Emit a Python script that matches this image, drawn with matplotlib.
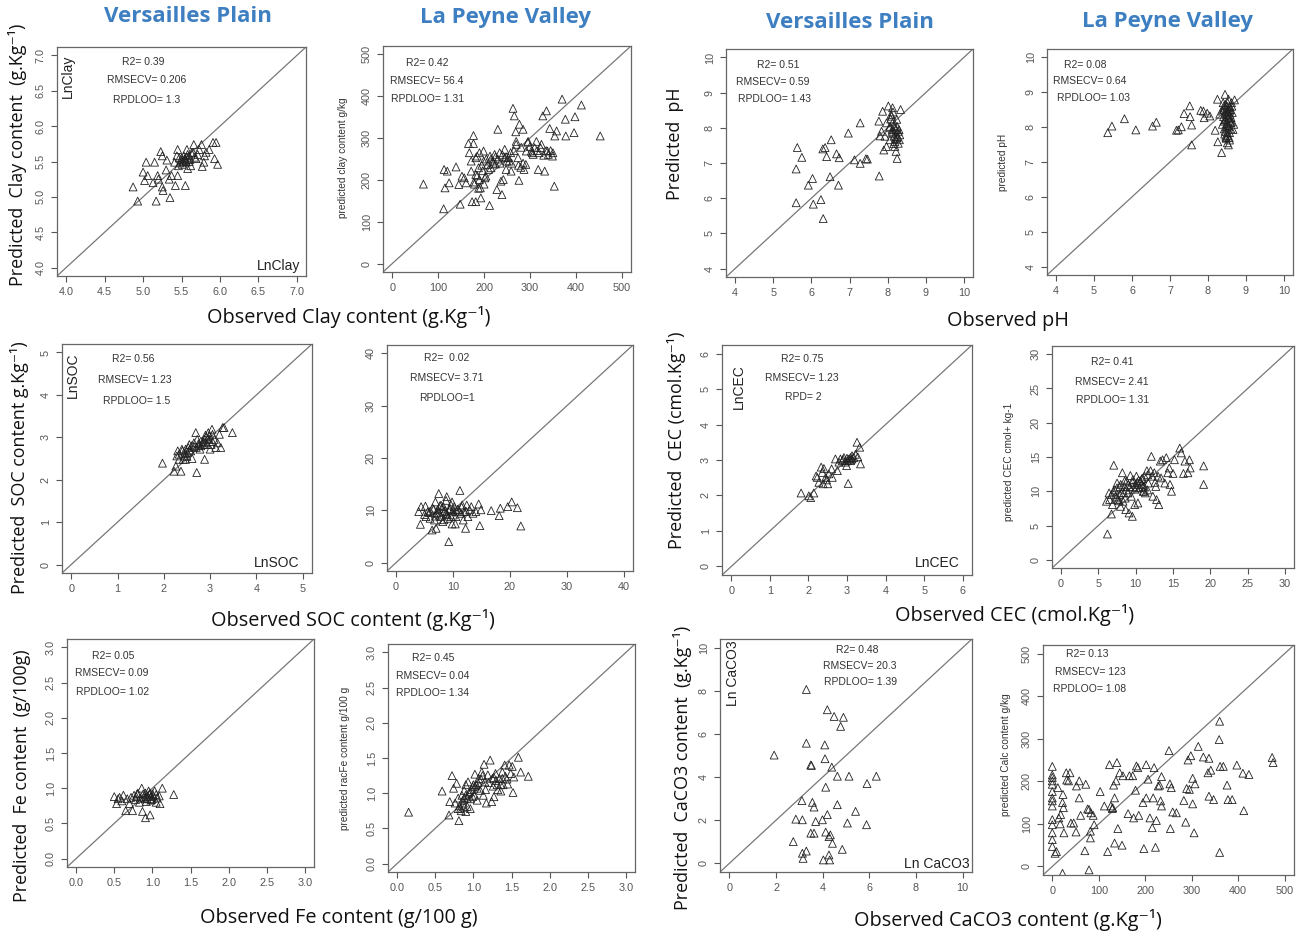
#!/usr/bin/env python3
# -*- coding: utf-8 -*-
"""
Observed vs predicted soil properties, Versailles Plain and La Peyne Valley.
12 R-style scatter panels with the 1:1 line.
"""

import matplotlib
matplotlib.use("Agg")
import matplotlib.pyplot as plt
import numpy as np

plt.rcParams['font.family'] = ['Liberation Sans', 'DejaVu Sans']

# --- Data ---
# Clay, Versailles Plain (LnClay)
clay_vp_obs = [4.87, 4.93, 5.00, 5.04, 5.06, 5.02, 5.13, 5.17, 5.15, 5.19, 5.20, 5.23, 5.25, 5.25,
               5.26, 5.30, 5.31, 5.34, 5.35, 5.37, 5.41, 5.42, 5.45, 5.46, 5.45, 5.47, 5.51, 5.52,
               5.54, 5.55, 5.57, 5.56, 5.58, 5.60, 5.62, 5.65, 5.66, 5.69, 5.71, 5.73, 5.76, 5.77,
               5.79, 5.80, 5.82, 5.86, 5.91, 5.93, 5.95, 5.97, 5.54, 5.57, 5.51, 5.60, 5.67,
               5.50, 5.53, 5.56, 5.58, 5.61, 5.63, 5.48, 5.44]
clay_vp_pred = [5.14, 4.94, 5.35, 5.49, 5.30, 5.23, 5.20, 4.94, 5.49, 5.30, 5.25, 5.64, 5.58, 5.14,
                5.09, 5.38, 5.52, 5.25, 4.99, 5.30, 5.49, 5.16, 5.67, 5.44, 5.30, 5.55, 5.52, 5.50,
                5.54, 5.16, 5.67, 5.49, 5.40, 5.58, 5.44, 5.63, 5.74, 5.54, 5.60, 5.67, 5.74, 5.43,
                5.49, 5.58, 5.63, 5.67, 5.77, 5.54, 5.77, 5.46, 5.52, 5.56, 5.46, 5.50, 5.56,
                5.55, 5.58, 5.52, 5.60, 5.53, 5.62, 5.48, 5.58]

# Clay, La Peyne Valley (g/kg)
clay_lp_obs = [68, 112, 113, 115, 120, 124, 139, 145, 148, 152, 157, 166, 168, 172, 174, 177, 177,
               179, 182, 185, 188, 190, 192, 193, 197, 199, 202, 212, 213, 215, 219, 225, 228, 230,
               234, 237, 239, 242, 245, 248, 253, 259, 263, 266, 269, 270, 274, 276, 277, 281, 285,
               287, 291, 296, 303, 307, 314, 318, 323, 328, 330, 332, 336, 340, 343, 349, 353, 354,
               358, 370, 377, 378, 396, 398, 412, 453, 182, 190, 199, 204, 208, 223, 245, 255, 292,
               310, 338, 350, 172, 161, 182,
               185, 195, 205, 210, 220, 230, 240, 250, 260, 265, 275, 285, 295, 300, 305, 315, 320,
               325, 335, 345, 178, 188, 200, 215, 225, 235, 248, 258, 270, 280]
clay_lp_pred = [190, 131, 225, 181, 221, 193, 231, 189, 142, 209, 205, 287, 265, 245, 148, 287, 306,
                190, 213, 257, 229, 201, 181, 157, 222, 245, 205, 139, 257, 229, 245, 238, 177, 321,
                265, 197, 165, 201, 273, 225, 253, 221, 371, 353, 315, 292, 253, 199, 333, 278, 321,
                225, 237, 292, 269, 261, 292, 225, 277, 353, 259, 221, 365, 261, 323, 257, 185, 305,
                317, 393, 345, 305, 313, 351, 379, 305, 253, 265, 269, 209, 237, 261, 253, 245, 269,
                277, 269, 265, 221, 193, 148,
                210, 235, 250, 225, 240, 250, 260, 245, 240, 270, 235, 240, 290, 280, 265, 270, 265,
                285, 270, 270, 195, 180, 190, 250, 255, 240, 255, 265, 285, 230]

# pH, Versailles Plain
ph_vp_obs = [5.60, 5.60, 5.63, 5.75, 5.92, 6.03, 6.05, 6.25, 6.30, 6.31, 6.36, 6.40, 6.49, 6.52,
             6.66, 6.71, 6.73, 6.97, 7.13, 7.28, 7.28, 7.43, 7.47, 7.78, 7.77, 7.80, 7.87, 7.90,
             7.97, 8.02, 8.06, 8.09, 8.10, 8.13, 8.15, 8.17, 8.19, 8.19, 8.22, 8.24, 8.25, 8.25,
             8.28, 8.31, 8.32, 8.34, 7.84, 7.93, 7.97, 8.06, 8.15, 8.19, 8.25, 8.28, 8.10, 8.22,
             8.05, 8.12, 8.18, 8.22, 8.26, 8.08, 8.14, 8.20, 8.30, 8.16]
ph_vp_pred = [5.87, 6.83, 7.44, 7.16, 6.37, 6.56, 5.83, 5.96, 7.40, 5.42, 7.44, 7.18, 6.61, 7.66,
              7.26, 6.37, 7.15, 7.85, 7.09, 8.14, 6.99, 7.12, 7.11, 6.63, 8.19, 7.77, 8.47, 7.37,
              7.47, 8.62, 8.04, 8.38, 7.85, 8.57, 8.19, 7.76, 7.47, 7.99, 7.33, 8.24, 7.13, 7.71,
              7.90, 7.66, 7.80, 8.52, 7.90, 7.76, 8.14, 7.66, 7.90, 7.61, 8.04, 7.56, 8.33, 7.94,
              8.00, 7.95, 8.05, 7.85, 7.75, 8.25, 8.45, 7.70, 7.95, 7.55]

# pH, La Peyne Valley
ph_lp_obs = [5.36, 5.47, 5.80, 6.10, 6.54, 6.64, 7.17, 7.22, 7.30, 7.37, 7.52, 7.53, 7.57, 7.57,
             7.81, 7.88, 7.90, 7.98, 8.05, 8.19, 8.25, 8.26, 8.31, 8.36, 8.42, 8.45, 8.47, 8.47,
             8.48, 8.51, 8.51, 8.54, 8.55, 8.57, 8.58, 8.60, 8.62, 8.64, 8.66, 8.68, 8.70, 8.38,
             8.42, 8.45, 8.49, 8.54, 8.57, 8.61, 8.38, 8.48, 8.57, 8.54,
             8.40, 8.44, 8.46, 8.50, 8.52, 8.56, 8.59, 8.63, 8.41, 8.45, 8.49, 8.53, 8.58, 8.62,
             8.43, 8.47, 8.51, 8.55, 8.60, 8.44, 8.48, 8.52, 8.56, 8.46, 8.50, 8.54, 8.58, 8.42,
             8.50, 8.55]
ph_lp_pred = [7.84, 8.03, 8.24, 7.92, 8.03, 8.14, 7.91, 7.92, 8.01, 8.39, 8.61, 8.30, 7.49, 8.06,
              8.48, 8.46, 8.27, 8.40, 8.32, 7.91, 8.80, 7.58, 8.37, 7.27, 8.61, 8.94, 8.22, 7.74,
              8.51, 8.03, 7.55, 8.80, 8.32, 7.84, 8.59, 8.13, 8.70, 8.42, 7.93, 8.08, 8.78, 8.46,
              8.17, 7.88, 8.37, 8.27, 8.46, 8.27, 8.08, 7.68, 7.63, 7.49,
              8.70, 8.55, 8.65, 8.45, 8.70, 8.55, 8.50, 8.60, 8.30, 8.20, 8.10, 8.25, 8.35, 8.15,
              7.95, 8.00, 7.85, 8.05, 7.95, 7.80, 7.70, 7.75, 7.70, 8.40, 8.35, 8.45, 8.20, 8.50,
              8.60, 8.00]

# SOC, Versailles Plain (LnSOC)
soc_vp_obs = [1.97, 2.22, 2.26, 2.28, 2.30, 2.33, 2.37, 2.39, 2.42, 2.45, 2.47, 2.51, 2.53, 2.55,
              2.58, 2.61, 2.65, 2.69, 2.71, 2.72, 2.76, 2.78, 2.80, 2.84, 2.87, 2.88, 2.91, 2.94,
              2.96, 2.98, 3.00, 3.02, 3.04, 3.05, 3.09, 3.12, 3.16, 3.23, 3.27, 3.30, 3.48, 2.33,
              2.40, 2.47, 2.60, 2.80, 2.87, 2.98, 3.20,
              2.45, 2.55, 2.65, 2.75, 2.85, 2.95, 3.05, 2.50, 2.70, 2.90]
soc_vp_pred = [2.39, 2.20, 2.32, 2.56, 2.68, 2.48, 2.20, 2.72, 2.48, 2.56, 2.48, 2.64, 2.76, 2.83,
               2.68, 2.50, 2.87, 3.11, 2.17, 2.95, 2.81, 2.72, 2.91, 2.83, 2.87, 2.48, 3.01, 2.83,
               3.11, 2.95, 2.72, 2.83, 3.19, 3.07, 2.95, 2.76, 2.87, 2.76, 3.23, 3.23, 3.11, 2.60,
               2.68, 2.72, 2.80, 2.80, 2.95, 3.03, 3.07,
               2.62, 2.70, 2.78, 2.85, 2.90, 2.98, 2.90, 2.55, 2.76, 3.05]

# SOC, La Peyne Valley (g/kg)
soc_lp_obs = [3.97, 4.27, 5.15, 5.26, 5.56, 5.96, 6.32, 6.73, 6.90, 7.02, 7.31, 7.49, 7.72, 7.89,
              8.19, 8.48, 8.77, 8.89, 9.06, 9.24, 9.36, 9.65, 9.82, 10.05, 10.2, 10.4, 10.6, 11.0,
              11.2, 11.6, 11.8, 12.0, 12.2, 12.4, 12.9, 13.2, 13.5, 14.0, 14.5, 14.7, 14.9, 16.7,
              18.1, 18.3, 19.6, 20.3, 21.3, 21.9, 4.39, 5.85, 6.43, 7.14, 7.89, 8.30, 8.77, 9.65,
              10.5, 11.4, 12.6, 9.82,
              5.0, 6.0, 6.6, 7.5, 8.0, 8.6, 9.0, 9.5, 10.0, 10.8, 11.5, 12.3, 6.9, 7.7, 8.4]
soc_lp_pred = [9.75, 7.32, 10.8, 8.79, 9.75, 8.47, 6.24, 8.15, 11.6, 6.56, 10.1, 13.2, 9.11, 11.0,
               7.83, 9.75, 11.9, 12.6, 8.47, 4.01, 10.1, 11.0, 7.39, 9.11, 10.7, 7.39, 9.75, 10.1,
               13.8, 11.0, 8.15, 9.75, 6.56, 11.0, 10.1, 10.7, 9.43, 9.75, 11.2, 7.07, 10.1, 9.94,
               8.98, 10.4, 10.7, 11.6, 10.5, 7.0, 10.7, 9.55, 10.4, 9.43, 8.79, 10.7, 9.43, 8.79,
               8.79, 9.43, 8.79, 11.6,
               9.2, 9.9, 10.2, 9.6, 10.4, 10.0, 9.2, 10.3, 9.9, 10.2, 10.6, 9.8, 8.9, 10.9, 8.2]

# CEC, Versailles Plain (LnCEC)
cec_vp_obs = [1.81, 2.01, 2.06, 2.14, 2.23, 2.27, 2.33, 2.36, 2.38, 2.40, 2.45, 2.47, 2.50, 2.53,
              2.62, 2.70, 2.75, 2.79, 2.83, 2.88, 2.92, 2.96, 2.99, 3.03, 3.05, 3.09, 3.13, 3.18,
              3.22, 3.26, 3.28, 3.33, 3.35, 3.01, 3.09, 3.13, 2.90, 3.00, 3.10, 2.60, 2.20]
cec_vp_pred = [2.07, 1.99, 1.94, 2.07, 2.51, 2.37, 2.80, 2.65, 2.33, 2.76, 2.51, 2.44, 2.33, 2.61,
               2.51, 3.03, 2.70, 2.94, 3.03, 2.98, 3.07, 2.94, 2.84, 2.34, 3.03, 3.07, 3.12, 3.07,
               3.16, 3.50, 3.09, 3.36, 2.89, 2.98, 2.98, 3.03, 3.02, 3.05, 3.00, 2.75, 2.55]

# CEC, La Peyne Valley (cmol+/kg)
cec_lp_obs = [6.22, 6.09, 6.44, 6.76, 6.89, 7.07, 7.20, 7.33, 7.51, 7.64, 7.87, 7.96, 8.09, 8.22,
              8.31, 8.53, 8.67, 8.76, 8.98, 9.11, 9.29, 9.42, 9.56, 9.64, 9.87, 10.1, 10.2, 10.3,
              10.5, 10.8, 10.9, 11.1, 11.2, 11.3, 11.5, 11.7, 12.0, 12.1, 12.3, 12.5, 12.7, 12.8,
              13.0, 13.1, 13.3, 13.4, 13.6, 13.9, 14.1, 14.3, 14.5, 14.6, 14.8, 15.0, 15.2, 15.9,
              16.1, 16.4, 16.6, 17.0, 17.2, 17.3, 19.1, 19.1, 6.76, 7.42, 7.87, 8.53, 8.98, 9.64,
              10.1, 11.0, 11.6,
              7.0, 7.5, 8.0, 8.4, 8.8, 9.2, 9.6, 10.0, 10.4, 10.8, 11.2, 11.6, 12.2, 6.5, 7.8,
              8.6, 9.9, 10.6, 11.0, 12.6]
cec_lp_pred = [3.76, 8.54, 9.76, 6.68, 8.05, 13.8, 10.2, 9.27, 11.2, 8.78, 10.7, 7.80, 9.76, 12.7,
               8.54, 11.5, 7.32, 10.2, 11.0, 6.83, 12.3, 9.27, 6.34, 10.7, 8.05, 12.2, 11.3, 8.29,
               10.5, 11.0, 11.9, 10.0, 12.2, 9.76, 13.0, 11.2, 13.0, 15.1, 9.27, 12.7, 10.7, 8.78,
               12.2, 8.05, 14.4, 11.95, 14.6, 11.2, 14.9, 12.7, 13.4, 11.0, 10.0, 12.6, 14.6, 16.3,
               15.6, 12.6, 14.4, 12.7, 14.6, 13.4, 13.7, 11.0, 9.51, 9.02, 9.51, 10.7, 9.76, 11.7,
               10.5, 10.7, 10.2,
               10.0, 10.5, 11.0, 9.8, 11.5, 10.6, 11.3, 11.0, 11.6, 11.8, 10.6, 12.4, 12.2, 8.8,
               8.6, 9.0, 10.3, 11.5, 10.0, 11.3]

# Fe, Versailles Plain (g/100 g)
fe_vp_obs = [0.50, 0.53, 0.57, 0.60, 0.62, 0.65, 0.67, 0.70, 0.74, 0.76, 0.78, 0.81, 0.83, 0.86,
             0.87, 0.89, 0.91, 0.91, 0.92, 0.94, 0.97, 0.97, 0.99, 1.01, 1.03, 1.05, 1.09, 1.10,
             1.13, 1.28, 0.92, 0.96, 0.98, 0.93, 1.00, 0.79, 0.72, 0.55, 1.05,
             0.88, 0.95, 1.00, 0.84, 0.90, 0.98, 1.06, 0.80]
fe_vp_pred = [0.88, 0.78, 0.87, 0.82, 0.90, 0.68, 0.85, 0.78, 0.68, 0.90, 0.84, 0.93, 0.80, 1.00,
              0.67, 0.87, 0.93, 0.58, 0.81, 0.89, 0.62, 0.93, 0.84, 0.89, 0.96, 0.80, 0.89, 0.78,
              1.00, 0.91, 0.88, 0.91, 0.88, 0.85, 0.85, 0.88, 0.87, 0.85, 0.91,
              0.92, 0.96, 0.92, 0.86, 0.85, 0.83, 0.86, 0.92]

# Fe, La Peyne Valley (g/100 g)
fe_lp_obs = [0.15, 0.59, 0.68, 0.69, 0.72, 0.74, 0.76, 0.78, 0.80, 0.81, 0.83, 0.85, 0.87, 0.88,
             0.90, 0.92, 0.93, 0.95, 0.96, 0.99, 1.01, 1.02, 1.04, 1.05, 1.07, 1.09, 1.11, 1.13,
             1.14, 1.15, 1.17, 1.19, 1.22, 1.24, 1.25, 1.27, 1.29, 1.31, 1.34, 1.36, 1.38, 1.39,
             1.41, 1.42, 1.45, 1.47, 1.49, 1.51, 1.52, 1.53, 1.59, 1.62, 1.72, 0.88, 0.92, 0.99,
             1.05, 1.27, 1.38, 0.80, 0.90,
             0.82, 0.86, 0.90, 0.94, 0.98, 1.02, 1.06, 1.10, 1.16, 1.20, 1.26, 1.30, 1.36, 1.44,
             0.84, 0.88, 0.96, 1.00, 1.12, 1.32]
fe_lp_pred = [0.73, 1.03, 0.69, 0.88, 1.25, 1.07, 0.86, 1.14, 0.93, 0.61, 0.78, 0.97, 0.86, 1.04,
              1.12, 0.93, 1.16, 1.02, 0.78, 1.09, 0.97, 1.27, 1.12, 0.90, 1.21, 1.04, 1.30, 0.97,
              1.41, 1.16, 0.86, 1.26, 1.47, 0.88, 1.21, 0.95, 1.28, 1.12, 1.21, 1.03, 1.30, 1.12,
              1.40, 1.24, 1.13, 1.40, 1.28, 1.38, 1.01, 1.23, 1.51, 1.30, 1.24, 0.93, 0.81, 0.95,
              1.07, 1.22, 1.21, 0.78, 0.74,
              0.82, 0.90, 0.97, 1.00, 1.05, 1.10, 1.15, 1.20, 1.05, 1.15, 1.10, 1.18, 1.12, 1.20,
              0.75, 0.80, 0.92, 1.12, 1.25, 1.05]

# CaCO3, Versailles Plain (Ln CaCO3)
caco3_vp_obs = [1.92, 2.74, 2.85, 3.11, 3.13, 3.13, 3.16, 3.30, 3.30, 3.30, 3.49, 3.52, 3.56, 3.63,
                3.63, 3.70, 3.99, 4.03, 4.09, 4.10, 4.13, 4.13, 4.20, 4.20, 4.27, 4.27, 4.30, 4.33,
                4.39, 4.42, 4.49, 4.63, 4.63, 4.77, 4.84, 4.89, 5.06, 5.13, 5.41, 5.88, 5.90, 6.30,
                3.49]
caco3_vp_pred = [5.02, 1.01, 2.05, 2.91, 2.02, 0.47, 0.23, 0.57, 5.57, 8.06, 1.40, 4.54, 2.83, 1.40,
                 2.61, 1.94, 2.02, 0.16, 5.49, 4.85, 3.53, 1.45, 2.26, 7.12, 1.24, 0.39, 0.16, 1.32,
                 4.46, 0.93, 6.81, 4.04, 2.72, 6.35, 0.65, 6.77, 1.87, 4.04, 2.41, 1.79, 3.70, 4.04,
                 4.56]

# CaCO3, La Peyne Valley (g/kg)
caco3_lp_obs = [0, 0, 0, 0, 0, 0, 0, 0, 0, 0, 0, 0, 0, 0, 6, 9, 12, 14, 17, 18, 22, 23, 24, 22, 25,
                30, 31, 35, 38, 40, 46, 51, 52, 58, 58, 61, 70, 72, 76, 79, 79, 82, 82, 83, 88, 90,
                103, 112, 119, 123, 126, 129, 130, 132, 134, 134, 137, 139, 141, 145, 150, 152, 163,
                166, 173, 175, 179, 181, 184, 186, 195, 197, 202, 202, 206, 210, 215, 217, 219, 222,
                224, 228, 231, 233, 235, 235, 251, 253, 254, 256, 259, 267, 283, 287, 289, 292, 295,
                298, 302, 302, 305, 307, 314, 325, 335, 337, 337, 341, 347, 360, 359, 360, 361, 368,
                376, 378, 387, 397, 412, 410, 423, 473, 475]
caco3_lp_pred = [235, 215, 209, 201, 193, 176, 161, 154, 142, 110, 98, 79, 63, 47, 31, 35, 185, 114,
                 100, 122, 150, 169, 138, -16, 79, 220, 203, 201, 220, 102, 102, 81, 189, 161, 201,
                 120, 37, 193, 135, 134, -8, 83, 67, 126, 120, 98, 176, 142, 35, 239, 142, 136, 138,
                 191, 161, 55, 201, 244, 89, 220, 50, 213, 124, 213, 213, 114, 179, 236, 232, 120,
                 150, 42, 239, 161, 205, 114, 91, 161, 232, 45, 108, 189, 191, 154, 142, 211, 272,
                 194, 89, 185, 128, 126, 155, 104, 183, 250, 181, 260, 147, 207, 79, 194, 282, 257,
                 220, 254, 165, 226, 157, 341, 298, 33, 235, 235, 191, 157, 157, 238, 131, 219, 216,
                 256, 244]

# --- Panel layout (pixel box: left, top, right, bottom) ---
W, H = 1300, 936
GRAY = '#555555'

panels = [
    dict(obs=clay_vp_obs, pred=clay_vp_pred, lim=(4, 7), step=0.5, fmt='%.1f',
         box=(57, 47, 306, 276), stats=['R2= 0.39', 'RMSECV= 0.206', 'RPDLOO= 1.3'],
         spos=[(0.345, 0.934), (0.36, 0.856), (0.36, 0.769)],
         ln='LnClay', lnpos=(0.045, 0.87), lnbr=(0.976, 0.044)),
    dict(obs=clay_lp_obs, pred=clay_lp_pred, lim=(0, 500), step=100, fmt='%d',
         box=(383, 46, 631, 272), stats=['R2= 0.42', 'RMSECV= 56.4', 'RPDLOO= 1.31'],
         spos=[(0.177, 0.925), (0.177, 0.845), (0.18, 0.765)],
         ylab='predicted clay content g/kg'),
    dict(obs=ph_vp_obs, pred=ph_vp_pred, lim=(4, 10), step=1, fmt='%d',
         box=(726, 49, 973, 277), stats=['R2= 0.51', 'RMSECV= 0.59', 'RPDLOO= 1.43'],
         spos=[(0.21, 0.93), (0.19, 0.855), (0.198, 0.78)]),
    dict(obs=ph_lp_obs, pred=ph_lp_pred, lim=(4, 10), step=1, fmt='%d',
         box=(1047, 49, 1293, 275), stats=['R2= 0.08', 'RMSECV= 0.64', 'RPDLOO= 1.03'],
         spos=[(0.155, 0.929), (0.175, 0.858), (0.187, 0.783)],
         ylab='predicted pH'),
    dict(obs=soc_vp_obs, pred=soc_vp_pred, lim=(0, 5), step=1, fmt='%d',
         box=(62, 344, 312, 573), stats=['R2= 0.56', 'RMSECV= 1.23', 'RPDLOO= 1.5'],
         spos=[(0.284, 0.934), (0.292, 0.843), (0.30, 0.751)],
         ln='LnSOC', lnpos=(0.044, 0.865), lnbr=(0.948, 0.044)),
    dict(obs=soc_lp_obs, pred=soc_lp_pred, lim=(0, 40), step=10, fmt='%d',
         box=(387, 345, 633, 571), stats=['R2=  0.02', 'RMSECV= 3.71', 'RPDLOO=1'],
         spos=[(0.244, 0.942), (0.244, 0.854), (0.244, 0.765)]),
    dict(obs=cec_vp_obs, pred=cec_vp_pred, lim=(0, 6), step=1, fmt='%d',
         box=(722, 345, 972, 575), stats=['R2= 0.75', 'RMSECV= 1.23', 'RPD= 2'],
         spos=[(0.32, 0.939), (0.32, 0.857), (0.324, 0.774)],
         ln='LnCEC', lnpos=(0.068, 0.817), lnbr=(0.952, 0.052)),
    dict(obs=cec_lp_obs, pred=cec_lp_pred, lim=(0, 30), step=5, fmt='%d',
         box=(1052, 346, 1294, 568), stats=['R2= 0.41', 'RMSECV= 2.41', 'RPDLOO= 1.31'],
         spos=[(0.248, 0.928), (0.248, 0.838), (0.252, 0.757)],
         ylab='predicted CEC cmol+ kg-1'),
    dict(obs=fe_vp_obs, pred=fe_vp_pred, lim=(0, 3), step=0.5, fmt='%.1f',
         box=(67, 639, 314, 867), stats=['R2= 0.05', 'RMSECV= 0.09', 'RPDLOO= 1.02'],
         spos=[(0.186, 0.925), (0.182, 0.85), (0.186, 0.768)]),
    dict(obs=fe_lp_obs, pred=fe_lp_pred, lim=(0, 3), step=0.5, fmt='%.1f',
         box=(388, 644, 635, 872), stats=['R2= 0.45', 'RMSECV= 0.04', 'RPDLOO= 1.34'],
         spos=[(0.182, 0.939), (0.182, 0.86), (0.182, 0.785)],
         ylab='predicted racFe content g/100 g'),
    dict(obs=caco3_vp_obs, pred=caco3_vp_pred, lim=(0, 10), step=2, fmt='%d',
         box=(720, 639, 972, 872), stats=['R2= 0.48', 'RMSECV= 20.3', 'RPDLOO= 1.39'],
         spos=[(0.543, 0.953), (0.556, 0.884), (0.556, 0.815)],
         ln='Ln CaCO3', lnpos=(0.052, 0.854), lnbr=(0.99, 0.035)),
    dict(obs=caco3_lp_obs, pred=caco3_lp_pred, lim=(0, 500), step=100, fmt='%d',
         box=(1043, 645, 1294, 875), stats=['R2= 0.13', 'RMSECV= 123', 'RPDLOO= 1.08'],
         spos=[(0.175, 0.96), (0.187, 0.883), (0.187, 0.808)],
         ylab='predicted Calc content g/kg'),
]

# small y labels of the La Peyne panels: figure pixel centre
small_ylab_pos = {1: (343, 158), 3: (1003, 162), 7: (1009, 462), 9: (345, 758), 11: (1006, 755)}


def fx(px):
    return px / W


def fy(py):
    return 1 - py / H


fig = plt.figure(figsize=(W / 100, H / 100), dpi=100)

for i, p in enumerate(panels):
    l, t, r, b = p['box']
    ax = fig.add_axes([fx(l), fy(b), (r - l) / W, (b - t) / H])
    lo, hi = p['lim']
    pad = 0.04 * (hi - lo)
    ax.set_xlim(lo - pad, hi + pad)
    ax.set_ylim(lo - pad, hi + pad)
    ticks = np.arange(lo, hi + p['step'] / 2, p['step'])
    ax.set_xticks(ticks)
    ax.set_yticks(ticks)
    ax.set_xticklabels([p['fmt'] % v for v in ticks])
    ax.set_yticklabels([p['fmt'] % v for v in ticks], rotation=90, va='center')
    ax.tick_params(direction='out', length=4, width=0.8, colors=GRAY, labelsize=7.8, pad=4)
    for sp in ax.spines.values():
        sp.set_color('#666666')
        sp.set_linewidth(0.9)

    ax.axline((lo, lo), slope=1, color='#777777', linewidth=0.9, zorder=1)
    ax.scatter(p['obs'], p['pred'], marker='^', s=32, facecolors='none',
               edgecolors='#222222', linewidths=0.6, zorder=2, clip_on=True)

    for txt, (sx, sy) in zip(p['stats'], p['spos']):
        ax.text(sx, sy, txt, transform=ax.transAxes, ha='center', va='center',
                fontsize=7.5, color='#333333')

    if 'ln' in p:
        ax.text(p['lnpos'][0], p['lnpos'][1], p['ln'], transform=ax.transAxes, rotation=90,
                ha='center', va='center', fontsize=10, color='#222222')
        ax.text(p['lnbr'][0], p['lnbr'][1], p['ln'], transform=ax.transAxes,
                ha='right', va='center', fontsize=10, color='#222222')

    if 'ylab' in p:
        x0, y0 = small_ylab_pos[i]
        fig.text(fx(x0), fy(y0), p['ylab'], rotation=90, ha='center', va='center',
                 fontsize=7.3, color='#333333')

# --- Column titles ---
BLUE = '#3d7fc1'
for x0, y0, txt in [(188, 17, 'Versailles Plain'), (505, 17, 'La Peyne Valley'),
                    (850, 22, 'Versailles Plain'), (1168, 22, 'La Peyne Valley')]:
    fig.text(fx(x0), fy(y0), txt, ha='center', va='center', fontsize=16,
             fontweight='bold', family='Open Sans', color=BLUE)

# --- Big axis labels ---
BIG = ['Open Sans', 'DejaVu Sans']
sup = '\u207b\u00b9'
big_ylabels = [(18, 155, 'Predicted  Clay content  (g.Kg' + sup + ')'),
               (675, 144, 'Predicted  pH'),
               (20, 468, 'Predicted  SOC content g.Kg' + sup + ')'),
               (676, 440, 'Predicted  CEC (cmol.Kg' + sup + ')'),
               (22, 776, 'Predicted  Fe content  (g/100g)'),
               (682, 768, 'Predicted  CaCO3 content  (g.Kg' + sup + ')')]
for x0, y0, txt in big_ylabels:
    fig.text(fx(x0), fy(y0), txt, rotation=90, ha='center', va='center',
             fontsize=12.9, family=BIG, color='#111111')

big_xlabels = [(349, 317, 'Observed Clay content (g.Kg' + sup + ')'),
               (1008, 321, 'Observed pH'),
               (353, 620, 'Observed SOC content (g.Kg' + sup + ')'),
               (1015, 615, 'Observed CEC (cmol.Kg' + sup + ')'),
               (339, 918, 'Observed Fe content (g/100 g)'),
               (1008, 920, 'Observed CaCO3 content (g.Kg' + sup + ')')]
for x0, y0, txt in big_xlabels:
    fig.text(fx(x0), fy(y0), txt, ha='center', va='center',
             fontsize=14.3, family=BIG, color='#111111')

fig.savefig('out.png', dpi=100)
